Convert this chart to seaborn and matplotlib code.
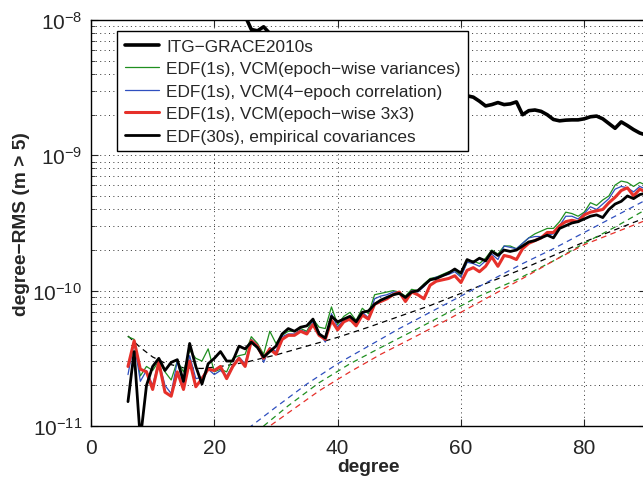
import numpy as np
import pandas as pd
import seaborn as sns
import matplotlib
matplotlib.use("Agg")
from matplotlib import pyplot as plt
from matplotlib.lines import Line2D
from matplotlib.ticker import FixedLocator, LogLocator, NullFormatter

# degrees 6..90 (m > 5)
degree = np.arange(6, 91)

# degree-RMS, stored as log10(rms / 1e-11)
itg_dex = [3.75, 3.72, 3.66, 3.62, 3.55, 3.50, 3.46, 3.41, 3.38, 3.33,
           3.30, 3.26, 3.22, 3.20, 3.16, 3.13, 3.11, 3.08, 3.06, 3.03,
           2.93, 2.92, 2.95, 2.90, 2.88, 2.87, 2.85, 2.84, 2.82, 2.80,
           2.79, 2.77, 2.76, 2.74, 2.72, 2.71, 2.69, 2.68, 2.66, 2.65,
           2.64, 2.62, 2.61, 2.60, 2.58, 2.57, 2.56, 2.55, 2.53, 2.52,
           2.51, 2.49, 2.48, 2.46, 2.45, 2.44, 2.43, 2.40, 2.365, 2.375,
           2.39, 2.375, 2.38, 2.395, 2.30, 2.33, 2.335, 2.325, 2.30, 2.265,
           2.255, 2.26, 2.262, 2.262, 2.27, 2.285, 2.29, 2.27, 2.235, 2.20,
           2.247, 2.22, 2.19, 2.165, 2.15]

edf1_var_dex = [0.66, 0.64, 0.37, 0.44, 0.41, 0.48, 0.40, 0.34, 0.48, 0.40,
                0.56, 0.50, 0.48, 0.57, 0.40, 0.42, 0.40, 0.50, 0.52, 0.53,
                0.66, 0.61, 0.53, 0.70, 0.61, 0.67, 0.70, 0.70, 0.72, 0.70,
                0.79, 0.73, 0.72, 0.88, 0.75, 0.81, 0.84, 0.78, 0.87, 0.83,
                0.97, 0.98, 0.99, 1.00, 0.99, 0.96, 1.01, 1.00, 1.05, 1.09,
                1.10, 1.12, 1.14, 1.15, 1.11, 1.21, 1.22, 1.20, 1.24, 1.30,
                1.27, 1.33, 1.33, 1.31, 1.35, 1.39, 1.42, 1.44, 1.46, 1.46,
                1.51, 1.58, 1.57, 1.55, 1.58, 1.65, 1.63, 1.67, 1.70, 1.78,
                1.81, 1.80, 1.77, 1.80, 1.78]

edf1_corr_dex = [0.38, 0.62, 0.33, 0.41, 0.30, 0.48, 0.30, 0.24, 0.48, 0.30,
                 0.52, 0.35, 0.36, 0.42, 0.38, 0.41, 0.37, 0.45, 0.51, 0.46,
                 0.64, 0.60, 0.47, 0.58, 0.55, 0.66, 0.68, 0.68, 0.71, 0.69,
                 0.77, 0.69, 0.62, 0.83, 0.73, 0.79, 0.81, 0.75, 0.84, 0.80,
                 0.94, 0.96, 0.97, 0.99, 0.99, 0.94, 1.00, 0.99, 1.03, 1.08,
                 1.10, 1.11, 1.12, 1.14, 1.10, 1.21, 1.20, 1.18, 1.22, 1.27,
                 1.23, 1.33, 1.32, 1.31, 1.35, 1.39, 1.40, 1.40, 1.41, 1.42,
                 1.48, 1.55, 1.55, 1.53, 1.57, 1.62, 1.60, 1.64, 1.68, 1.75,
                 1.77, 1.76, 1.73, 1.77, 1.75]

edf1_3x3_dex = [0.44, 0.63, 0.42, 0.40, 0.27, 0.47, 0.25, 0.22, 0.40, 0.27,
                0.48, 0.29, 0.35, 0.42, 0.41, 0.44, 0.35, 0.44, 0.50, 0.44,
                0.63, 0.59, 0.50, 0.57, 0.53, 0.64, 0.67, 0.67, 0.70, 0.68,
                0.75, 0.67, 0.64, 0.78, 0.71, 0.77, 0.79, 0.74, 0.82, 0.79,
                0.90, 0.92, 0.94, 0.97, 0.99, 0.92, 0.99, 0.97, 0.94, 1.04,
                1.07, 1.08, 1.09, 1.11, 1.06, 1.15, 1.17, 1.14, 1.18, 1.25,
                1.18, 1.26, 1.25, 1.23, 1.31, 1.35, 1.37, 1.39, 1.43, 1.43,
                1.48, 1.51, 1.52, 1.51, 1.56, 1.58, 1.59, 1.60, 1.65, 1.69,
                1.74, 1.76, 1.70, 1.75, 1.73]

edf30_dex = [0.18, 0.55, -0.10, 0.30, 0.44, 0.50, 0.41, 0.47, 0.49, 0.33,
             0.61, 0.44, 0.31, 0.46, 0.50, 0.55, 0.48, 0.48, 0.59, 0.57,
             0.62, 0.58, 0.51, 0.55, 0.59, 0.68, 0.72, 0.70, 0.73, 0.74,
             0.79, 0.68, 0.65, 0.81, 0.77, 0.79, 0.81, 0.77, 0.84, 0.85,
             0.90, 0.93, 0.95, 0.97, 0.98, 0.95, 0.99, 1.00, 1.04, 1.08,
             1.09, 1.11, 1.13, 1.16, 1.13, 1.23, 1.21, 1.24, 1.22, 1.29,
             1.26, 1.30, 1.29, 1.30, 1.33, 1.36, 1.37, 1.39, 1.41, 1.39,
             1.46, 1.48, 1.50, 1.51, 1.53, 1.55, 1.56, 1.54, 1.60, 1.64,
             1.66, 1.70, 1.68, 1.71, 1.72]

# formal errors (dashed), sampled degrees, log10(rms / 1e-11)
formal30_deg = [6, 8, 10, 12, 15, 18, 21, 25, 30, 35, 40, 45, 50, 55, 60, 65, 70, 75, 80, 85, 90]
formal30_dex = [0.665, 0.58, 0.51, 0.465, 0.43, 0.425, 0.44, 0.47, 0.525, 0.59, 0.655,
                0.73, 0.81, 0.89, 0.98, 1.07, 1.16, 1.26, 1.36, 1.45, 1.54]
formal_corr_deg = [22, 26, 30, 35, 40, 45, 50, 55, 60, 65, 70, 75, 80, 85, 90]
formal_corr_dex = [-0.17, 0.0, 0.14, 0.31, 0.46, 0.59, 0.72, 0.84, 0.96, 1.08, 1.20, 1.31, 1.43, 1.55, 1.67]
formal_var_deg = [23, 28, 32, 37, 42, 47, 53, 58, 63, 69, 75, 80, 85, 90]
formal_var_dex = [-0.19, 0.0, 0.15, 0.32, 0.46, 0.58, 0.72, 0.84, 0.96, 1.08, 1.22, 1.35, 1.47, 1.60]
formal_3x3_deg = [24, 29, 33, 37, 42, 47, 53, 58, 64, 70, 75, 80, 85, 90]
formal_3x3_dex = [-0.17, 0.0, 0.13, 0.26, 0.40, 0.53, 0.67, 0.79, 0.94, 1.09, 1.22, 1.34, 1.43, 1.52]

labels = ['ITG\u2212GRACE2010s',
          'EDF(1s), VCM(epoch\u2212wise variances)',
          'EDF(1s), VCM(4\u2212epoch correlation)',
          'EDF(1s), VCM(epoch\u2212wise 3x3)',
          'EDF(30s), empirical covariances']

GREEN = '#1f8f1f'
BLUE = '#2f4fbf'
RED = '#e6302a'


def rms(dex):
    return 1e-11 * 10 ** np.asarray(dex, dtype=float)


sns.set_style("ticks")
plt.rcParams['font.family'] = ['Liberation Sans', 'DejaVu Sans']
plt.rcParams['mathtext.fontset'] = 'custom'
plt.rcParams['mathtext.rm'] = 'Liberation Sans'
plt.rcParams['mathtext.it'] = 'Liberation Sans:italic'

fig = plt.figure(figsize=(6.43, 4.85), dpi=100)
ax = fig.add_axes([91 / 643, 58 / 485, 554.9 / 643, 406 / 485])
ax.set_yscale('log')

# dashed formal error curves
dash = (0, (4.5, 3.5))
sns.lineplot(x=formal30_deg, y=rms(formal30_dex), ax=ax, color='k', lw=0.9, linestyle=dash, zorder=2)
sns.lineplot(x=formal_corr_deg, y=rms(formal_corr_dex), ax=ax, color=BLUE, lw=0.9, linestyle=dash, zorder=2)
sns.lineplot(x=formal_var_deg, y=rms(formal_var_dex), ax=ax, color=GREEN, lw=0.9, linestyle=dash, zorder=2)
sns.lineplot(x=formal_3x3_deg, y=rms(formal_3x3_dex), ax=ax, color=RED, lw=0.9, linestyle=dash, zorder=2)

# empirical degree-RMS curves
sns.lineplot(x=degree, y=rms(itg_dex), ax=ax, color='k', lw=2.6, zorder=5)
sns.lineplot(x=degree, y=rms(edf1_var_dex), ax=ax, color=GREEN, lw=0.9, zorder=3)
sns.lineplot(x=degree, y=rms(edf1_corr_dex), ax=ax, color=BLUE, lw=0.9, zorder=3)
sns.lineplot(x=degree, y=rms(edf1_3x3_dex), ax=ax, color=RED, lw=2.2, zorder=4)
sns.lineplot(x=degree, y=rms(edf30_dex), ax=ax, color='k', lw=2.0, zorder=4.5)

ax.set_xlim(0, 90)
ax.set_ylim(1e-11, 1e-8)
ax.set_xticks([0, 20, 40, 60, 80])
ax.yaxis.set_major_locator(FixedLocator([1e-11, 1e-10, 1e-9, 1e-8]))
ax.yaxis.set_minor_locator(LogLocator(base=10, subs=np.arange(2, 10), numticks=20))
ax.yaxis.set_minor_formatter(NullFormatter())

grid_ls = (0, (1, 3.5))
ax.grid(True, which='major', axis='both', color='#333333', lw=0.7, linestyle=grid_ls)
ax.grid(True, which='minor', axis='y', color='#333333', lw=0.7, linestyle=grid_ls)
ax.set_axisbelow(True)

ax.tick_params(which='both', direction='in', top=True, right=True, labelsize=15)
ax.tick_params(axis='x', which='major', pad=8.5)
ax.tick_params(axis='y', which='major', pad=6.5)
ax.tick_params(which='major', length=5, width=0.8)
ax.tick_params(which='minor', length=3, width=0.6)
for s in ax.spines.values():
    s.set_linewidth(1.0)
    s.set_color('k')

ax.set_xlabel('degree', fontsize=13.8, fontweight='bold', labelpad=1)
ax.set_ylabel('degree\u2212RMS (m > 5)', fontsize=13.8, fontweight='bold')
ax.yaxis.set_label_coords(-0.110, 0.5)

handles = [Line2D([], [], color='k', lw=2.6),
           Line2D([], [], color=GREEN, lw=0.9),
           Line2D([], [], color=BLUE, lw=0.9),
           Line2D([], [], color=RED, lw=2.2),
           Line2D([], [], color='k', lw=2.0)]
leg = ax.legend(handles, labels, loc='upper left', bbox_to_anchor=(0.047, 0.973),
                borderaxespad=0, fontsize=12.4, handlelength=2.0, handletextpad=0.4,
                labelspacing=0.43, borderpad=0.45, frameon=True, fancybox=False,
                framealpha=1, edgecolor='k')
leg.get_frame().set_linewidth(1.0)
leg.set_zorder(10)

fig.savefig('out.png', dpi=100)
